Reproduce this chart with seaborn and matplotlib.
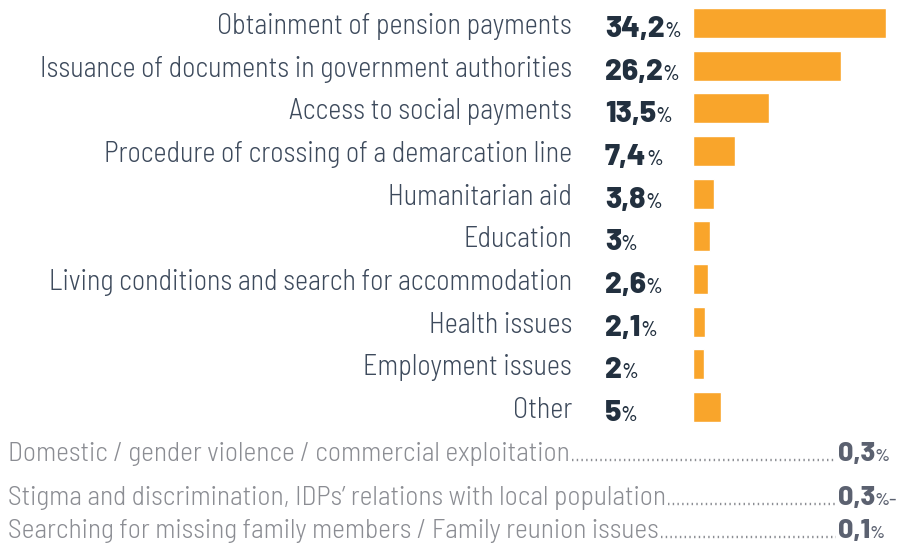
import matplotlib
matplotlib.use("Agg")
import matplotlib.pyplot as plt
from matplotlib.lines import Line2D
import seaborn as sns
import pandas as pd

categories = [
    "Obtainment of pension payments",
    "Issuance of documents in government authorities",
    "Access to social payments",
    "Procedure of crossing of a demarcation line",
    "Humanitarian aid",
    "Education",
    "Living conditions and search for accommodation",
    "Health issues",
    "Employment issues",
    "Other",
]
values = [34.2, 26.2, 13.5, 7.4, 3.8, 3.0, 2.6, 2.1, 2.0, 5.0]
value_labels = ["34,2", "26,2", "13,5", "7,4", "3,8", "3", "2,6", "2,1", "2", "5"]

extra_categories = [
    "Domestic / gender violence / commercial exploitation",
    "Stigma and discrimination, IDPs\u2019 relations with local population",
    "Searching for missing family members / Family reunion issues",
]
extra_values = [0.3, 0.3, 0.1]
extra_labels = ["0,3", "0,3", "0,1"]
extra_suffix = ["%", "%-", "%"]

BAR = "#F9A52B"
LABEL = "#3d4a5c"
VALUE = "#22303f"
GREY = "#8b8d93"
GREY_VAL = "#5b6170"
LABEL_FONT = ["Barlow Semi Condensed", "DejaVu Sans"]
NUM_FONT = ["Barlow", "DejaVu Sans"]
LABEL_W = 300

W, H = 899, 550
sns.set_theme(style="white")
plt.rcParams["font.family"] = LABEL_FONT

fig = plt.figure(figsize=(W / 100, H / 100), dpi=100)
renderer = fig.canvas.get_renderer()

def fx(x):
    return x / W

def fy(y):
    return 1 - y / H

def fit_size(texts, target_total, base=20.0, weight=LABEL_W):
    tot = 0.0
    for s in texts:
        t = fig.text(0, 0, s, fontsize=base, fontweight=weight, family=LABEL_FONT)
        tot += t.get_window_extent(renderer).width
        t.remove()
    return base * target_total / tot

label_size = fit_size([categories[1], categories[3], categories[6], categories[0]],
                      502 + 476 + 532 + 365)
extra_size = fit_size(extra_categories, 541 + 649 + 676)

row0, step = 23.0, 42.67
ax_top = row0 - step / 2
ax_bot = row0 + step * (len(categories) - 0.5)
ax = fig.add_axes([fx(693), fy(ax_bot), 192.7 / W, (ax_bot - ax_top) / H])
df = pd.DataFrame({"category": categories, "value": values})
sns.barplot(data=df, x="value", y="category", orient="h", color=BAR,
            saturation=1, width=0.7, ax=ax)
ax.set_xlim(0, 34.2)
ax.set_axis_off()

for i, (cat, lab) in enumerate(zip(categories, value_labels)):
    yc = row0 + step * i
    fig.text(fx(572), fy(yc + 11), cat, ha="right", va="baseline",
             fontsize=label_size, fontweight=LABEL_W, color=LABEL)
    t = fig.text(fx(605), fy(yc + 14), lab, ha="left", va="baseline", fontsize=21.5,
                 fontweight=800, color=VALUE, family=NUM_FONT)
    bb = t.get_window_extent(renderer)
    fig.text((bb.x1 - 0.5) / W, fy(yc + 14), "%", ha="left", va="baseline",
             fontsize=14.5, fontweight=500, color=VALUE, family=NUM_FONT)

extra_base = [461, 505, 538]
for yb, cat, lab, suf in zip(extra_base, extra_categories, extra_labels, extra_suffix):
    t1 = fig.text(fx(8), fy(yb), cat, ha="left", va="baseline", fontsize=extra_size,
                  fontweight=LABEL_W, color=GREY)
    v = fig.text(fx(838), fy(yb), lab, ha="left", va="baseline", fontsize=19.5,
                 fontweight=800, color=GREY_VAL, family=NUM_FONT)
    vb = v.get_window_extent(renderer)
    fig.text((vb.x1 - 0.5) / W, fy(yb), suf, ha="left", va="baseline", fontsize=13,
             fontweight=500, color=GREY_VAL, family=NUM_FONT)
    b1 = t1.get_window_extent(renderer)
    ydot = (H - yb + 1) / H
    fig.add_artist(Line2D([(b1.x1 + 2) / W, 836 / W], [ydot, ydot],
                          transform=fig.transFigure, color=GREY, lw=1.7,
                          linestyle=(0, (0.6, 1.4))))

fig.savefig("out.png", dpi=100)
